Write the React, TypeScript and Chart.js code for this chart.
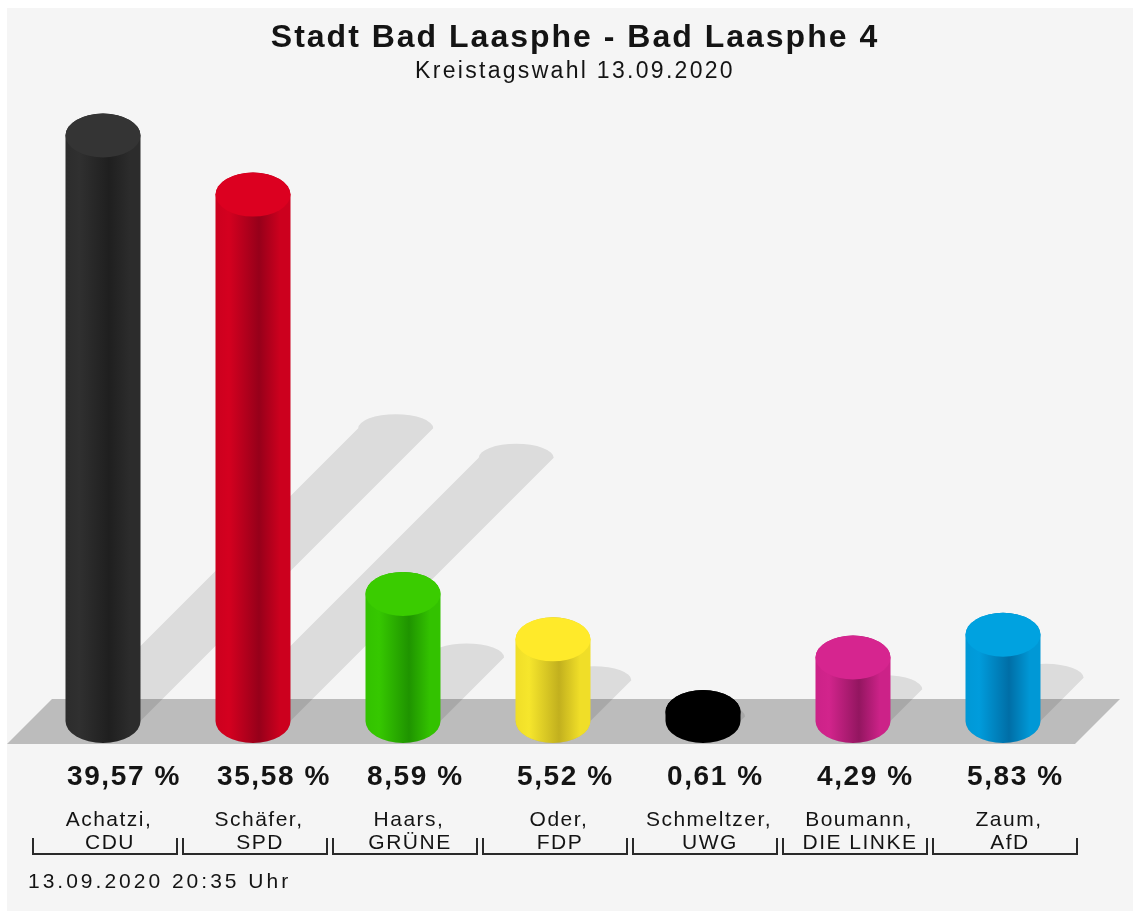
import React, { useEffect, useRef } from "react";
import { Chart, registerables } from "chart.js";

Chart.register(...registerables);

const TITLE = "Stadt Bad Laasphe - Bad Laasphe 4";
const SUBTITLE = "Kreistagswahl 13.09.2020";
const FOOTER = "13.09.2020 20:35 Uhr";

const candidates = ["Achatzi,", "Schäfer,", "Haars,", "Oder,", "Schmeltzer,", "Boumann,", "Zaum,"];
const parties = ["CDU", "SPD", "GRÜNE", "FDP", "UWG", "DIE LINKE", "AfD"];
const values = [39.57, 35.58, 8.59, 5.52, 0.61, 4.29, 5.83];
const valueLabels = ["39,57 %", "35,58 %", "8,59 %", "5,52 %", "0,61 %", "4,29 %", "5,83 %"];

const baseColors = ["#2c2c2c", "#cc001e", "#33c200", "#f0de28", "#000000", "#cc2288", "#0098d6"];
const lightColors = ["#303030", "#d4001f", "#36c800", "#f6e62c", "#000000", "#d2248c", "#009cdc"];
const darkColors = ["#1f1f1f", "#96001a", "#1f9400", "#c2b01e", "#000000", "#931660", "#006ea6"];
const topColors = ["#343434", "#dc0020", "#3acc00", "#ffea2a", "#000000", "#d6258f", "#00a2e0"];

const FONT = '"Liberation Sans", Arial, Helvetica, sans-serif';
const TEXT = "#141414";
const RY = 22;

function setSpacing(ctx: any, px: number) {
  try {
    ctx.letterSpacing = px + "px";
  } catch (e) {}
}

const wahlPlugin = {
  id: "wahl",
  beforeDraw(chart: any) {
    const { ctx, width, height } = chart;
    ctx.save();
    ctx.fillStyle = "#ffffff";
    ctx.fillRect(0, 0, width, height);
    ctx.fillStyle = "#f5f5f5";
    ctx.fillRect(7, 8, width - 7, height - 8);

    ctx.fillStyle = TEXT;
    ctx.textBaseline = "alphabetic";
    ctx.textAlign = "center";
    ctx.font = "bold 32px " + FONT;
    setSpacing(ctx, 2);
    ctx.fillText(TITLE, 575, 47);
    ctx.font = "23px " + FONT;
    setSpacing(ctx, 2.3);
    ctx.fillText(SUBTITLE, 575, 78);

    ctx.textAlign = "left";
    ctx.font = "21px " + FONT;
    setSpacing(ctx, 3);
    ctx.fillText(FOOTER, 28, 888);
    ctx.restore();
  },
  beforeDatasetsDraw(chart: any) {
    const { ctx, chartArea } = chart;
    const yb = chart.scales.y.getPixelForValue(0);
    ctx.save();
    // floor band
    const bl = chartArea.left - 21;
    const br = chartArea.right - 3;
    ctx.fillStyle = "#bcbcbc";
    ctx.beginPath();
    ctx.moveTo(bl, yb + 23);
    ctx.lineTo(bl + 45, yb - 22);
    ctx.lineTo(br + 45, yb - 22);
    ctx.lineTo(br, yb + 23);
    ctx.closePath();
    ctx.fill();

    // shadows
    const meta = chart.getDatasetMeta(0);
    ctx.fillStyle = "rgba(0,0,0,0.1)";
    meta.data.forEach((el: any) => {
      const cx = el.x;
      const r = el.width / 2;
      const s = 0.5 * (yb - el.y);
      ctx.beginPath();
      ctx.moveTo(cx - r, yb);
      ctx.lineTo(cx - r + s, yb - s);
      ctx.ellipse(cx + s, yb - s, r, 14, 0, Math.PI, 2 * Math.PI, false);
      ctx.lineTo(cx + r, yb);
      ctx.ellipse(cx, yb, r, RY, 0, 0, Math.PI, false);
      ctx.closePath();
      ctx.fill();
    });
    ctx.restore();
  },
  afterDatasetsDraw(chart: any) {
    const { ctx } = chart;
    const yb = chart.scales.y.getPixelForValue(0);
    const meta = chart.getDatasetMeta(0);
    ctx.save();
    meta.data.forEach((el: any, i: number) => {
      const cx = el.x;
      const r = el.width / 2;
      const yt = el.y;
      const g = ctx.createLinearGradient(cx - r, 0, cx + r, 0);
      g.addColorStop(0, baseColors[i]);
      g.addColorStop(0.18, lightColors[i]);
      g.addColorStop(0.58, darkColors[i]);
      g.addColorStop(0.86, baseColors[i]);
      g.addColorStop(1, baseColors[i]);
      ctx.fillStyle = g;
      ctx.beginPath();
      ctx.moveTo(cx - r, yt);
      ctx.lineTo(cx - r, yb);
      ctx.ellipse(cx, yb, r, RY, 0, Math.PI, 0, true);
      ctx.lineTo(cx + r, yt);
      ctx.ellipse(cx, yt, r, RY, 0, 0, Math.PI, true);
      ctx.closePath();
      ctx.fill();
      ctx.fillStyle = topColors[i];
      ctx.beginPath();
      ctx.ellipse(cx, yt, r, RY, 0, 0, 2 * Math.PI);
      ctx.fill();
    });

    // labels
    ctx.fillStyle = TEXT;
    ctx.textBaseline = "alphabetic";
    const xs = chart.scales.x;
    meta.data.forEach((el: any, i: number) => {
      const cx = el.x;
      ctx.textAlign = "left";
      ctx.font = "bold 28px " + FONT;
      setSpacing(ctx, 1.6);
      ctx.fillText(valueLabels[i], cx - 36, 785);
      ctx.textAlign = "center";
      ctx.font = "21px " + FONT;
      setSpacing(ctx, 1.5);
      ctx.fillText(candidates[i], cx + 6, 826);
      ctx.fillText(parties[i], cx + 7, 849);
    });

    // brackets
    const step = xs.width / values.length;
    ctx.strokeStyle = "#2a2a2a";
    ctx.lineWidth = 2;
    for (let i = 0; i < values.length; i++) {
      const l = xs.left + i * step + 5;
      const rr = xs.left + (i + 1) * step - 1;
      ctx.beginPath();
      ctx.moveTo(l, 838);
      ctx.lineTo(l, 854);
      ctx.lineTo(rr, 854);
      ctx.lineTo(rr, 838);
      ctx.stroke();
    }
    ctx.restore();
  },
};

export default function App() {
  const ref = useRef<HTMLCanvasElement | null>(null);
  useEffect(() => {
    document.body.style.margin = "0";
    const canvas = ref.current;
    if (!canvas) return;
    const chart = new Chart(canvas, {
      type: "bar",
      data: {
        labels: parties,
        datasets: [
          {
            data: values,
            backgroundColor: "rgba(0,0,0,0)",
            borderWidth: 0,
            categoryPercentage: 1,
            barPercentage: 0.5,
          },
        ],
      },
      options: {
        responsive: false,
        animation: false,
        events: [],
        layout: { padding: { left: 28, right: 55, top: 70, bottom: 190 } },
        plugins: {
          legend: { display: false },
          title: { display: false },
          tooltip: { enabled: false },
        },
        scales: {
          x: { display: false },
          y: { display: false, min: 0, max: 44 },
        },
      },
      plugins: [wahlPlugin],
    } as any);
    return () => chart.destroy();
  }, []);
  return (
    <canvas
      ref={ref}
      width={1133}
      height={911}
      style={{ display: "block", width: 1133, height: 911 }}
    />
  );
}
